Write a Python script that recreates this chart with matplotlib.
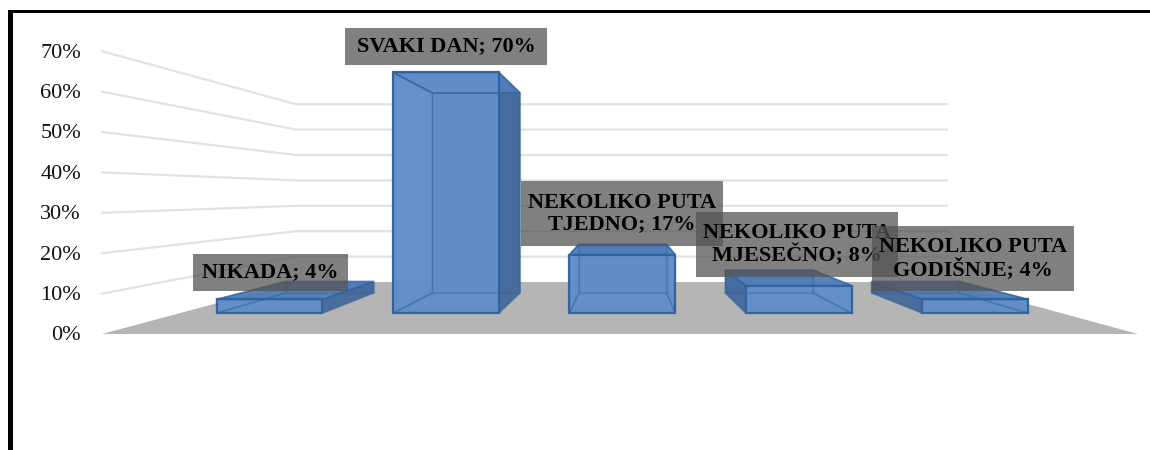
import matplotlib
matplotlib.use('Agg')
import matplotlib.pyplot as plt
from matplotlib.patches import Polygon, Rectangle

#Datos
categorias = ['NIKADA', 'SVAKI DAN', 'NEKOLIKO PUTA\nTJEDNO', 'NEKOLIKO PUTA\nMJESEČNO', 'NEKOLIKO PUTA\nGODIŠNJE']
valores = [4, 70, 17, 8, 4]
ticks = [0, 10, 20, 30, 40, 50, 60, 70]

#Cajas de las etiquetas en pixeles (x0, x1, y0, y1)
cajas = [(193, 348, 254, 291), (345, 547, 28, 65), (521, 723, 181, 246),
         (696, 898, 212, 277), (872, 1074, 226, 291)]

#Geometria de la perspectiva, en pixeles
frente = (102, 1138, 334, 4.04)
fondo = (296, 947, 282, 2.54)
t_frente, t_fondo = 0.4, 0.79
ancho = 0.3

def proyectar(x, v, t):
    # x en categorias (0 a 5), v en %, t profundidad (0 frente, 1 fondo)
    izq = frente[0] + (fondo[0] - frente[0]) * t
    der = frente[1] + (fondo[1] - frente[1]) * t
    base = frente[2] + (fondo[2] - frente[2]) * t
    escala = frente[3] + (fondo[3] - frente[3]) * t
    return (izq + (der - izq) * x / len(valores), base - escala * v)

fig = plt.figure(figsize=(11.5, 4.5), dpi=100)
ax = fig.add_axes([0, 0, 1, 1])
ax.set_xlim(0, 1150)
ax.set_ylim(450, 0)
ax.axis('off')

#Piso
n = len(valores)
ax.add_patch(Polygon([proyectar(0, 0, 0), proyectar(n, 0, 0), proyectar(n, 0, 1), proyectar(0, 0, 1)],
                     closed=True, fc='#b5b5b5', ec='none', zorder=2))

#Lineas de la grilla y ticks
for v in ticks:
    if v > 0:
        a, b, c = proyectar(0, v, 0), proyectar(0, v, 1), proyectar(n, v, 1)
        ax.plot([a[0], b[0], c[0]], [a[1], b[1], c[1]], color='#e2e2e2', lw=1.6, zorder=1)
    ax.text(81, proyectar(0, v, 0)[1] + 2, f'{v}%', ha='right', va='center',
            family='Liberation Serif', fontsize=16, color='#111111', zorder=3)

#Barras
azul, azul_osc, borde = '#618ec7', '#45699a', '#2f62a0'
for i, v in enumerate(valores):
    x0, x1 = i + 0.51 - ancho, i + 0.51 + ancho
    p = lambda x, h, t: proyectar(x, h, t)
    atras = [p(x0, 0, t_fondo), p(x1, 0, t_fondo), p(x1, v, t_fondo), p(x0, v, t_fondo)]
    piso = [p(x0, 0, t_frente), p(x1, 0, t_frente), p(x1, 0, t_fondo), p(x0, 0, t_fondo)]
    lado_izq = [p(x0, 0, t_frente), p(x0, 0, t_fondo), p(x0, v, t_fondo), p(x0, v, t_frente)]
    lado_der = [p(x1, 0, t_frente), p(x1, 0, t_fondo), p(x1, v, t_fondo), p(x1, v, t_frente)]
    tapa = [p(x0, v, t_frente), p(x1, v, t_frente), p(x1, v, t_fondo), p(x0, v, t_fondo)]
    delante = [p(x0, 0, t_frente), p(x1, 0, t_frente), p(x1, v, t_frente), p(x0, v, t_frente)]

    #Rellenos: solo las caras que se ven
    ax.add_patch(Polygon(atras, closed=True, fc=azul, alpha=0.85, ec='none', zorder=4))
    if p(x0, 0, t_fondo)[0] < p(x0, 0, t_frente)[0]:
        ax.add_patch(Polygon(lado_izq, closed=True, fc=azul_osc, alpha=0.95, ec='none', zorder=4))
    if p(x1, 0, t_fondo)[0] > p(x1, 0, t_frente)[0]:
        ax.add_patch(Polygon(lado_der, closed=True, fc=azul_osc, alpha=0.95, ec='none', zorder=4))
    ax.add_patch(Polygon(tapa, closed=True, fc='#4f7db8', alpha=0.95, ec='none', zorder=4))
    ax.add_patch(Polygon(delante, closed=True, fc=azul, alpha=0.97, ec='none', zorder=4))

    #Bordes
    for puntos, grosor, alfa in [(atras, 1.0, 0.25), (piso, 1.0, 0.25), (lado_izq, 1.2, 0.4),
                                 (lado_der, 1.2, 0.4), (tapa, 1.3, 0.7), (delante, 1.6, 0.95)]:
        ax.add_patch(Polygon(puntos, closed=True, fc='none', ec=borde, lw=grosor, alpha=alfa, zorder=4))

#Etiquetas
for i, (cat, v) in enumerate(zip(categorias, valores)):
    x0, x1, y0, y1 = cajas[i]
    ax.add_patch(Rectangle((x0, y0), x1 - x0, y1 - y0, fc='#555555', alpha=0.75, ec='none', zorder=5 + i))
    ax.text((x0 + x1) / 2, (y0 + y1) / 2, f'{cat}; {v}%', ha='center', va='center', multialignment='center',
            family='Liberation Serif', fontweight='bold', fontsize=16, linespacing=1.12,
            color='black', zorder=5 + i)

#Marco negro
ax.add_patch(Rectangle((8, 10), 5, 450, fc='black', ec='none', zorder=20))
ax.add_patch(Rectangle((8, 10), 1150, 3.3, fc='black', ec='none', zorder=20))

fig.savefig('out.png', dpi=100)
